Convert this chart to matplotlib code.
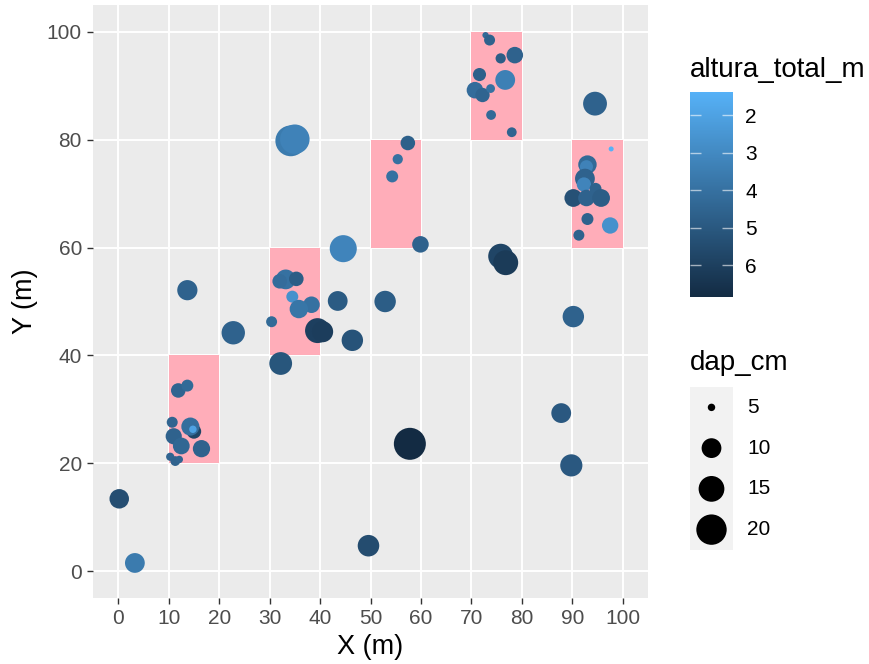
import numpy as np
import matplotlib
matplotlib.use('Agg')
import matplotlib.pyplot as plt
from matplotlib.colors import LinearSegmentedColormap, Normalize
from matplotlib.patches import Rectangle

plt.rcParams['font.family'] = ['Liberation Sans', 'DejaVu Sans']

# parcelas (canto inferior esquerdo, 10 x 20 m)
parc_x = [10, 30, 50, 70, 90]
parc_y = [20, 40, 60, 80, 60]
parc_larg = 10
parc_alt = 20

# arvores
x = [0.2, 3.3, 13.7, 22.8,
     11.9, 13.7, 10.7, 15.0, 14.3, 14.8, 11.0, 12.5, 16.5, 10.3, 11.3, 12.1,
     33.2, 32.0, 35.3, 34.5, 38.3, 35.8, 30.4, 39.5, 40.5, 43.5, 46.4, 32.2,
     44.6, 52.9, 34.2, 35.0,
     49.6, 57.8, 59.9, 57.4, 55.4, 54.3,
     75.8, 76.8, 87.8, 89.8, 90.2,
     72.8, 73.6, 78.6, 75.8, 71.6, 76.7, 70.7, 72.2, 73.8, 73.9, 78.0,
     97.7, 93.0, 92.8, 92.5, 92.3, 94.6, 90.2, 92.8, 95.7, 93.0, 97.5, 91.3,
     94.5]
y = [13.4, 1.5, 52.1, 44.2,
     33.5, 34.4, 27.6, 25.9, 26.8, 26.3, 25.0, 23.2, 22.7, 21.2, 20.4, 20.7,
     54.1, 53.75, 54.2, 50.9, 49.4, 48.6, 46.25, 44.6, 44.4, 50.1, 42.8, 38.5,
     59.8, 50.0, 79.8, 80.1,
     4.7, 23.6, 60.6, 79.4, 76.4, 73.2,
     58.4, 57.2, 29.3, 19.6, 47.2,
     99.4, 98.5, 95.7, 95.1, 92.1, 91.1, 89.2, 88.3, 89.5, 84.6, 81.4,
     78.3, 75.4, 75.0, 72.8, 71.7, 70.9, 69.2, 69.2, 69.2, 65.3, 64.1, 62.3,
     86.7]
dap_cm = [9.8, 10.0, 10.3, 12.8,
          7.0, 6.0, 5.7, 7.0, 8.9, 5.0, 7.8, 8.1, 8.4, 5.1, 5.4, 5.0,
          10.0, 7.0, 7.0, 6.0, 8.0, 9.1, 5.7, 14.2, 11.0, 10.0, 11.2, 12.3,
          16.3, 11.2, 20.5, 19.0,
          11.3, 22.0, 8.0, 7.0, 5.5, 6.0,
          14.2, 14.2, 10.0, 11.8, 11.2,
          4.9, 5.7, 8.0, 5.5, 6.4, 10.0, 8.0, 6.9, 5.2, 5.4, 5.4,
          4.86, 9.1, 6.4, 10.0, 6.9, 6.0, 8.7, 8.0, 8.7, 6.0, 7.9, 5.7,
          13.2]
altura_total_m = [5.4, 3.6, 4.6, 4.6,
                  4.5, 4.3, 4.5, 5.8, 4.1, 2.0, 4.6, 4.4, 4.6, 4.5, 4.6, 4.5,
                  4.0, 4.2, 4.8, 2.7, 4.0, 3.8, 4.3, 6.0, 6.1, 4.9, 5.2, 5.1,
                  3.2, 4.8, 3.6, 3.3,
                  5.5, 6.85, 4.6, 4.7, 4.0, 4.0,
                  5.8, 6.2, 5.0, 5.0, 4.6,
                  4.3, 4.6, 4.6, 4.8, 4.7, 3.4, 4.2, 4.5, 4.0, 4.3, 4.5,
                  1.38, 4.3, 3.3, 4.6, 3.2, 4.6, 5.3, 4.6, 4.8, 4.6, 2.7, 4.6,
                  4.6]

dap_breaks = [5, 10, 15, 20]
alt_breaks = [2, 3, 4, 5, 6]

cmap = LinearSegmentedColormap.from_list('alt', ['#56B1F7', '#132B43'])
norm = Normalize(min(altura_total_m), max(altura_total_m))

DAP_MIN, DAP_MAX = min(dap_cm), max(dap_cm)

def tamanho(d):
  d = np.asarray(d, float)
  px = 5 + 27 * np.sqrt(np.clip((d - DAP_MIN) / (DAP_MAX - DAP_MIN), 0, 1))
  return (px * 0.72) ** 2

fig = plt.figure(figsize=(8.7, 6.64), dpi=100)
ax = fig.add_axes([93/870, 1 - 598/664, 555/870, 593/664])
ax.set_facecolor('#EBEBEB')
for s in ax.spines.values():
  s.set_visible(False)

for px0, py0 in zip(parc_x, parc_y):
  ax.add_patch(Rectangle((px0, py0), parc_larg, parc_alt, facecolor='#ffadb9',
                         edgecolor='none', zorder=1))

ax.scatter(x, y, s=tamanho(dap_cm), c=altura_total_m, cmap=cmap, norm=norm,
           linewidths=0, zorder=2)

ax.set_xlim(-5, 105)
ax.set_ylim(-5, 105)
ax.set_xticks(np.arange(0, 101, 10))
ax.set_yticks(np.arange(0, 101, 20))
ax.set_axisbelow(True)
ax.grid(color='white', linewidth=1.4)
ax.tick_params(length=4.5, width=1, color='#333333', labelsize=15,
               labelcolor='#4D4D4D', pad=3.5)
ax.set_xlabel('X (m)', fontsize=19.5, labelpad=4)
ax.set_ylabel('Y (m)', fontsize=19.5, labelpad=6)

# legenda de cor
cax = fig.add_axes([690/870, 1 - 297/664, 43/870, 205/664])
sm = plt.cm.ScalarMappable(norm=norm, cmap=cmap)
cb = fig.colorbar(sm, cax=cax, ticks=alt_breaks)
cb.outline.set_visible(False)
cax.invert_yaxis()
cax.tick_params(axis='y', direction='in', length=8, width=1,
                color=(1, 1, 1, 0.6), left=True, right=True,
                labelleft=False, labelright=True, labelsize=15, pad=9)
fig.text(690/870, 1 - 70/664, 'altura_total_m', fontsize=20, va='center')

# legenda de tamanho
lax = fig.add_axes([690/870, 1 - 550/664, 43/870, 163/664])
lax.set_facecolor('#F2F2F2')
for s in lax.spines.values():
  s.set_visible(False)
lax.set_xticks([])
lax.set_yticks([])
lax.set_xlim(0, 1)
lax.set_ylim(0, len(dap_breaks))
pos = np.arange(len(dap_breaks))[::-1] + 0.5
lax.scatter([0.5] * len(dap_breaks), pos, s=tamanho(dap_breaks), c='black',
            linewidths=0, clip_on=False)
for b, p in zip(dap_breaks, pos):
  lax.text(1.33, p, str(b), fontsize=15, va='center', ha='left')
fig.text(690/870, 1 - 363/664, 'dap_cm', fontsize=20, va='center')

fig.savefig('out.png', dpi=100)
